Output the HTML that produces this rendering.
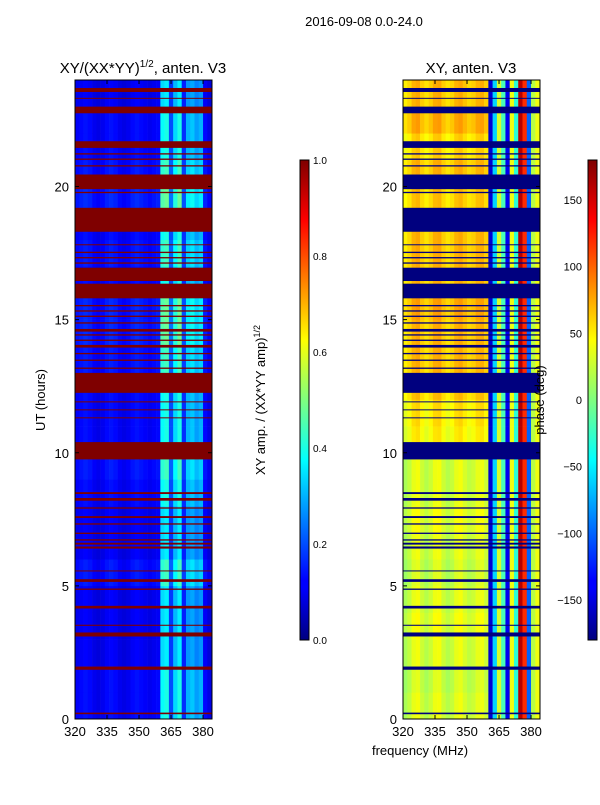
<!DOCTYPE html>
<html><head><meta charset="utf-8"><style>
body{margin:0;background:#fff;font-family:"Liberation Sans",sans-serif}
svg text{font-family:"Liberation Sans",sans-serif}
</style></head><body>
<svg id="fig" width="600" height="800" xmlns="http://www.w3.org/2000/svg">
<defs>
<linearGradient id="jet" x1="0" y1="1" x2="0" y2="0">
<stop offset="0" stop-color="#00007f"/><stop offset="0.11" stop-color="#0000ff"/><stop offset="0.125" stop-color="#0000ff"/>
<stop offset="0.34" stop-color="#00dbff"/><stop offset="0.375" stop-color="#00ffff"/><stop offset="0.5" stop-color="#7fff7f"/>
<stop offset="0.625" stop-color="#ffff00"/><stop offset="0.66" stop-color="#ffdb00"/><stop offset="0.875" stop-color="#ff0000"/>
<stop offset="1" stop-color="#7f0000"/></linearGradient>
</defs>
<text x="364" y="26" font-size="13" text-anchor="middle">2016-09-08 0.0-24.0</text>
<text x="143" y="73" font-size="15" text-anchor="middle">XY/(XX*YY)<tspan font-size="10" dy="-6">1/2</tspan><tspan dy="6">, anten. V3</tspan></text>
<text x="471" y="73" font-size="15" text-anchor="middle">XY, anten. V3</text>
<g id="p1"></g>
<g id="p2"></g>
<g id="axes"></g>
<rect x="300" y="160" width="9" height="480" fill="url(#jet)" stroke="#000" stroke-width="1"/>
<rect x="588" y="160" width="9" height="480" fill="url(#jet)" stroke="#000" stroke-width="1"/>
<text transform="translate(45,400) rotate(-90)" font-size="13" text-anchor="middle">UT (hours)</text>
<text transform="translate(265,400) rotate(-90)" font-size="13" text-anchor="middle">XY amp. / (XX*YY amp)<tspan font-size="9" dy="-5">1/2</tspan></text>
<text transform="translate(544,400) rotate(-90)" font-size="13" text-anchor="middle">phase (deg)</text>
<text x="420" y="755" font-size="13" text-anchor="middle">frequency (MHz)</text>
</svg>
<script>
const freqCols=[320,322,324,326,328,330,332,334,336,338,340,342,344,346,348,350,352,354,356,358,360,362,364,366,368,370,372,374,376,378,380,382];
const ampProfile=[0.12,0.13,0.14,0.13,0.11,0.1,0.11,0.13,0.14,0.13,0.11,0.1,0.11,0.13,0.14,0.13,0.12,0.11,0.12,0.13,0.38,0.4,0.2,0.34,0.4,0.17,0.3,0.32,0.28,0.3,0.13,0.1];
const phaseProfile=[40,48,62,66,52,44,52,64,66,52,44,50,62,66,56,48,52,62,64,52,-150,-60,30,-20,-140,40,-30,160,120,-100,20,40];
const ampHourScale=[1,1,0.9,0.9,0.9,1.1,0.9,0.9,1,1.1,1,1,1,1.1,1.2,1.2,1,1.1,1,1.2,1.1,1,1,0.9];
const phaseHourOffset=[-25,-30,-25,-20,-25,-30,-25,-20,-25,-25,-10,-5,5,10,10,15,10,10,10,5,10,0,15,10];
const flags=[[0.18,0.24],[1.85,1.97],[3.1,3.25],[3.5,3.54],[4.15,4.25],[4.85,4.9],[5.15,5.25],[5.55,5.58],[6.4,6.48],[6.55,6.62],[6.7,6.75],[6.95,7.0],[7.3,7.35],[7.55,7.62],[7.9,7.95],[8.2,8.3],[8.45,8.52],[9.75,10.4],[11.3,11.33],[11.6,11.63],[11.9,11.93],[12.25,13.0],[13.15,13.2],[13.45,13.5],[13.7,13.75],[13.95,14.05],[14.2,14.25],[14.4,14.45],[14.55,14.65],[14.85,14.9],[15.1,15.15],[15.3,15.35],[15.5,15.55],[15.8,16.35],[16.45,16.95],[17.1,17.15],[17.3,17.35],[17.5,17.55],[17.8,17.83],[18.3,19.2],[19.75,19.8],[19.9,20.45],[20.75,20.8],[21.0,21.05],[21.2,21.25],[21.45,21.7],[22.75,23.0],[23.3,23.33],[23.55,23.7]];
const yTicks=[0,5,10,15,20];
const xTicks=[320,335,350,365,380];
const ampTicks=[0.0,0.2,0.4,0.6,0.8,1.0];
const phaseTicks=[-150,-100,-50,0,50,100,150];

const NS='http://www.w3.org/2000/svg';
const F0=320,F1=384.2,PW=137,Y0=719,Y1=80;
const yS=h=>Y0-(h/24)*(Y0-Y1);
const xS=(x0,f)=>x0+(f-F0)/(F1-F0)*PW;
function jet(v){v=Math.max(0,Math.min(1,v));
 const r=Math.min(4*v-1.5,-4*v+4.5),g=Math.min(4*v-0.5,-4*v+3.5),b=Math.min(4*v+0.5,-4*v+2.5);
 const c=t=>Math.round(255*Math.max(0,Math.min(1,t)));return `rgb(${c(r)},${c(g)},${c(b)})`;}
function mk(tag,attrs,parent){const e=document.createElementNS(NS,tag);for(const k in attrs)e.setAttribute(k,attrs[k]);parent.appendChild(e);return e;}
function panel(gid,x0,valFn,flagColor){
 const g=document.getElementById(gid);
 for(let h=0;h<24;h++){for(let c=0;c<freqCols.length;c++){
  const xa=xS(x0,freqCols[c]),xb=xS(x0,c+1<freqCols.length?freqCols[c+1]:F1);
  const r=mk('rect',{x:xa,y:yS(h+1),width:xb-xa+0.3,height:yS(h)-yS(h+1)+0.3,fill:jet(valFn(h,c))},g);
  
  }}
 flags.forEach(f=>{const r=mk('rect',{x:x0,y:yS(f[1]),width:PW,height:Math.max(1,yS(f[0])-yS(f[1])),fill:flagColor},g);
  
  });
}
panel('p1',75,(h,c)=>ampProfile[c]*ampHourScale[h],'#7f0000');
panel('p2',403,(h,c)=>{let p=phaseProfile[c]+(c<20?phaseHourOffset[h]:0);if(p>180)p-=360;return (p+180)/360;},'#00007f');
const ax=document.getElementById('axes');
[75,403].forEach((x0,i)=>{
 const fr=mk('rect',{x:x0,y:Y1,width:PW,height:Y0-Y1,fill:'none',stroke:'#000','stroke-width':1},ax);
 
 
 yTicks.forEach(t=>{const y=yS(t);mk('line',{x1:x0,x2:x0+4,y1:y,y2:y,stroke:'#000'},ax);mk('line',{x1:x0+PW-4,x2:x0+PW,y1:y,y2:y,stroke:'#000'},ax);
  const tx=mk('text',{x:x0-6,y:y+5,'font-size':13,'text-anchor':'end'},ax);tx.textContent=t;
  
  });
 xTicks.forEach(t=>{const x=xS(x0,t);mk('line',{x1:x,x2:x,y1:Y0,y2:Y0-4,stroke:'#000'},ax);mk('line',{x1:x,x2:x,y1:Y1,y2:Y1+4,stroke:'#000'},ax);
  const tx=mk('text',{x:x,y:736,'font-size':13,'text-anchor':'middle'},ax);tx.textContent=t;
  
  });
});
ampTicks.forEach(t=>{const y=640-t*480;mk('line',{x1:300,x2:303,y1:y,y2:y,stroke:'#000'},ax);mk('line',{x1:306,x2:309,y1:y,y2:y,stroke:'#000'},ax);
 const tx=mk('text',{x:313,y:y+4,'font-size':10},ax);tx.textContent=t.toFixed(1);
 
 });
phaseTicks.forEach(t=>{const y=400-t*480/360;mk('line',{x1:588,x2:591,y1:y,y2:y,stroke:'#000'},ax);mk('line',{x1:594,x2:597,y1:y,y2:y,stroke:'#000'},ax);
 const tx=mk('text',{x:582,y:y+4,'font-size':11,'text-anchor':'end'},ax);tx.textContent=t<0?'\u2212'+(-t):t;
 
 });
</script>
</body></html>
